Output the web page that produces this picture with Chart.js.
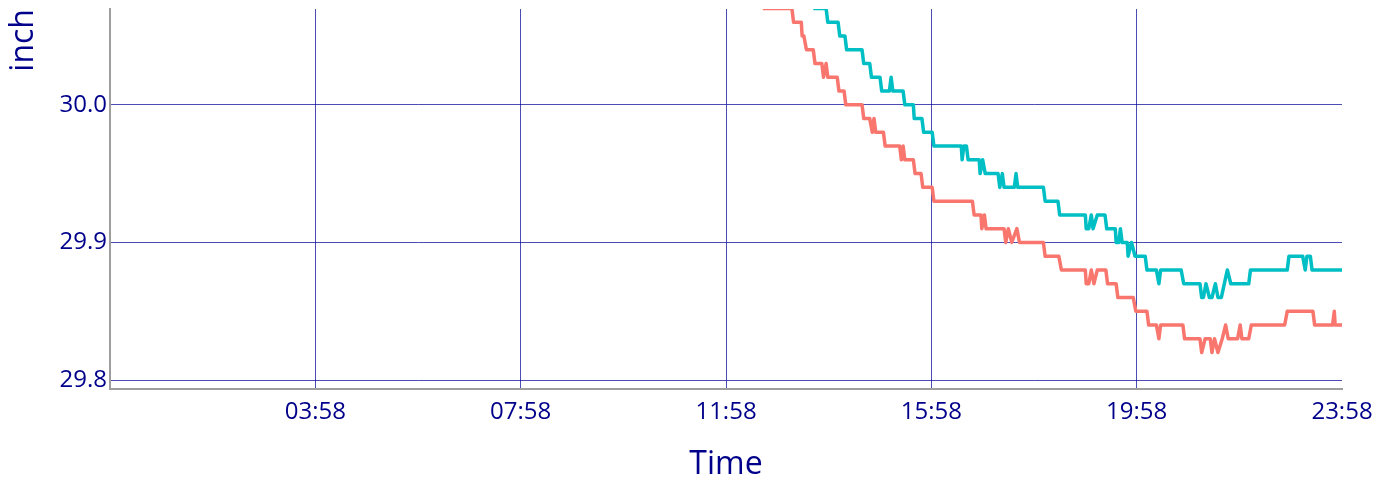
<!DOCTYPE html>
<html>
<head>
<meta charset="utf-8">
<title>Pressure</title>
<script src="https://cdn.jsdelivr.net/npm/chart.js@4"></script>
<style>
    html, body { margin: 0; padding: 0; background: #fff; }
    #wrap { width: 1376px; height: 478px; }
</style>
</head>
<body>
<div id="wrap"><canvas id="pressureChart"></canvas></div>
<script>
// readings (inch) at the times they change
const redTimes = ['12:41', '13:15', '13:17', '13:26', '13:27', '13:29', '13:32', '13:40', '13:42', '13:50',
    '13:52', '13:55', '13:57', '14:08', '14:10', '14:16', '14:18', '14:37', '14:39', '14:46',
    '14:49', '14:51', '14:53', '15:02', '15:04', '15:21', '15:23', '15:25', '15:27', '15:37',
    '15:39', '15:46', '15:48', '15:59', '16:01', '16:46', '16:48', '16:56', '16:57', '17:00',
    '17:02', '17:23', '17:25', '17:28', '17:32', '17:38', '17:41', '18:09', '18:11', '18:27',
    '18:30', '18:58', '18:59', '19:02', '19:05', '19:08', '19:12', '19:22', '19:24', '19:34',
    '19:36', '19:54', '19:57', '20:10', '20:12', '20:21', '20:24', '20:26', '20:52', '20:54',
    '21:12', '21:14', '21:18', '21:24', '21:26', '21:29', '21:33', '21:38', '21:42', '21:45',
    '21:56', '21:59', '22:01', '22:09', '22:12', '22:51', '22:54', '23:24', '23:26', '23:47',
    '23:49', '23:50', '23:58'];
const redValues = [30.07, 30.07, 30.06, 30.06, 30.05, 30.05, 30.04, 30.04, 30.03, 30.03,
    30.02, 30.03, 30.02, 30.02, 30.01, 30.01, 30.00, 30.00, 29.99, 29.99,
    29.98, 29.99, 29.98, 29.98, 29.97, 29.97, 29.96, 29.97, 29.96, 29.96,
    29.95, 29.95, 29.94, 29.94, 29.93, 29.93, 29.92, 29.92, 29.91, 29.92,
    29.91, 29.91, 29.90, 29.91, 29.90, 29.91, 29.90, 29.90, 29.89, 29.89,
    29.88, 29.88, 29.87, 29.87, 29.88, 29.87, 29.88, 29.88, 29.87, 29.87,
    29.86, 29.86, 29.85, 29.85, 29.84, 29.84, 29.83, 29.84, 29.84, 29.83,
    29.83, 29.82, 29.83, 29.83, 29.82, 29.83, 29.82, 29.83, 29.84, 29.83,
    29.83, 29.84, 29.83, 29.83, 29.84, 29.84, 29.85, 29.85, 29.84, 29.84,
    29.85, 29.84, 29.84];

const tealTimes = ['13:40', '13:55', '13:57', '14:09', '14:11', '14:17', '14:19', '14:37', '14:39', '14:46',
    '14:48', '14:58', '15:00', '15:09', '15:11', '15:13', '15:25', '15:27', '15:37', '15:38',
    '15:47', '15:49', '15:59', '16:01', '16:33', '16:34', '16:36', '16:39', '16:41', '16:54',
    '16:55', '16:58', '17:01', '17:16', '17:18', '17:21', '17:23', '17:35', '17:37', '17:39',
    '18:09', '18:11', '18:26', '18:28', '18:58', '18:59', '19:02', '19:05', '19:07', '19:12',
    '19:21', '19:23', '19:33', '19:34', '19:37', '19:39', '19:41', '19:47', '19:48', '19:52',
    '19:56', '20:08', '20:10', '20:21', '20:24', '20:26', '20:50', '20:53', '21:12', '21:14',
    '21:16', '21:19', '21:23', '21:26', '21:30', '21:33', '21:37', '21:44', '21:48', '22:09',
    '22:11', '22:54', '22:56', '23:12', '23:15', '23:17', '23:21', '23:23', '23:58'];
const tealValues = [30.07, 30.07, 30.06, 30.06, 30.05, 30.05, 30.04, 30.04, 30.03, 30.03,
    30.02, 30.02, 30.01, 30.01, 30.02, 30.01, 30.01, 30.00, 30.00, 29.99,
    29.99, 29.98, 29.98, 29.97, 29.97, 29.96, 29.97, 29.97, 29.96, 29.96,
    29.95, 29.96, 29.95, 29.95, 29.94, 29.95, 29.94, 29.94, 29.95, 29.94,
    29.94, 29.93, 29.93, 29.92, 29.92, 29.91, 29.91, 29.92, 29.91, 29.92,
    29.92, 29.91, 29.91, 29.90, 29.90, 29.91, 29.90, 29.90, 29.89, 29.90,
    29.89, 29.89, 29.88, 29.88, 29.87, 29.88, 29.88, 29.87, 29.87, 29.86,
    29.86, 29.87, 29.86, 29.86, 29.87, 29.86, 29.86, 29.88, 29.87, 29.87,
    29.88, 29.88, 29.89, 29.89, 29.88, 29.89, 29.89, 29.88, 29.88];

const xTickLabels = ['03:58', '07:58', '11:58', '15:58', '19:58', '23:58'];
const yTickValues = [29.8, 29.9, 30.0];

const textColor = '#00008b';
const gridColor = 'rgba(0, 0, 150, 0.7)';

// 'HH:MM' -> minutes after midnight
function toMinutes(s) {
    let parts = s.split(':');
    return parseInt(parts[0]) * 60 + parseInt(parts[1]);
}

function toPoints(times, values) {
    return times.map((t, i) => ({ x: toMinutes(t), y: values[i] }));
}

const xTickMinutes = xTickLabels.map(toMinutes);

// fixed axis sizes, no extra room for the end labels
function fixBox(axis, size) {
    if (axis.isHorizontal()) axis.height = size;
    else axis.width = size;
    axis.paddingTop = 0;
    axis.paddingBottom = 0;
    axis.paddingLeft = 0;
    axis.paddingRight = 0;
}

const ctx = document.getElementById('pressureChart').getContext('2d');
const pressureChart = new Chart(ctx, {
    type: 'line',
    data: {
        datasets: [{
            label: 'Sensor 1',
            data: toPoints(redTimes, redValues),
            borderColor: '#f8766d',
            borderWidth: 3.5,
            borderJoinStyle: 'round',
            pointRadius: 0,
            tension: 0
        }, {
            label: 'Sensor 2',
            data: toPoints(tealTimes, tealValues),
            borderColor: '#00bfc4',
            borderWidth: 3.5,
            borderJoinStyle: 'round',
            pointRadius: 0,
            tension: 0
        }]
    },
    options: {
        responsive: true,
        maintainAspectRatio: false,
        animation: false,
        devicePixelRatio: 1,
        layout: { padding: { left: 0, right: 34, top: 9, bottom: 0 } },
        plugins: {
            legend: { display: false },
            tooltip: { enabled: false }
        },
        scales: {
            x: {
                type: 'linear',
                min: -2,
                max: 1438,
                afterBuildTicks: axis => {
                    axis.ticks = xTickMinutes.map(v => ({ value: v }));
                },
                afterFit: axis => fixBox(axis, 89),
                ticks: {
                    autoSkip: false,
                    maxRotation: 0,
                    padding: 9,
                    color: textColor,
                    font: { family: 'Open Sans', size: 24 },
                    callback: value => xTickLabels[xTickMinutes.indexOf(value)]
                },
                grid: {
                    drawTicks: false,
                    lineWidth: 1,
                    color: c => (c.tick && c.tick.value === 1438) ? 'rgba(0,0,0,0)' : gridColor
                },
                border: { display: true, color: '#9e9e9e', width: 2 },
                title: {
                    display: true,
                    text: 'Time',
                    color: textColor,
                    font: { family: 'Open Sans', size: 32 },
                    padding: { top: 0, bottom: -6 }
                }
            },
            y: {
                type: 'linear',
                min: 29.7935,
                max: 30.0696,
                afterBuildTicks: axis => {
                    axis.ticks = yTickValues.map(v => ({ value: v }));
                },
                afterFit: axis => fixBox(axis, 110),
                ticks: {
                    padding: 3,
                    color: textColor,
                    font: { family: 'Open Sans', size: 24 },
                    callback: value => value.toFixed(1)
                },
                grid: {
                    drawTicks: false,
                    lineWidth: 1,
                    color: gridColor
                },
                border: { display: true, color: '#9e9e9e', width: 2 },
                title: {
                    display: true,
                    text: 'inch',
                    align: 'end',
                    color: textColor,
                    font: { family: 'Open Sans', size: 32 },
                    padding: { top: 5, bottom: 0 }
                }
            }
        }
    }
});
</script>
</body>
</html>
